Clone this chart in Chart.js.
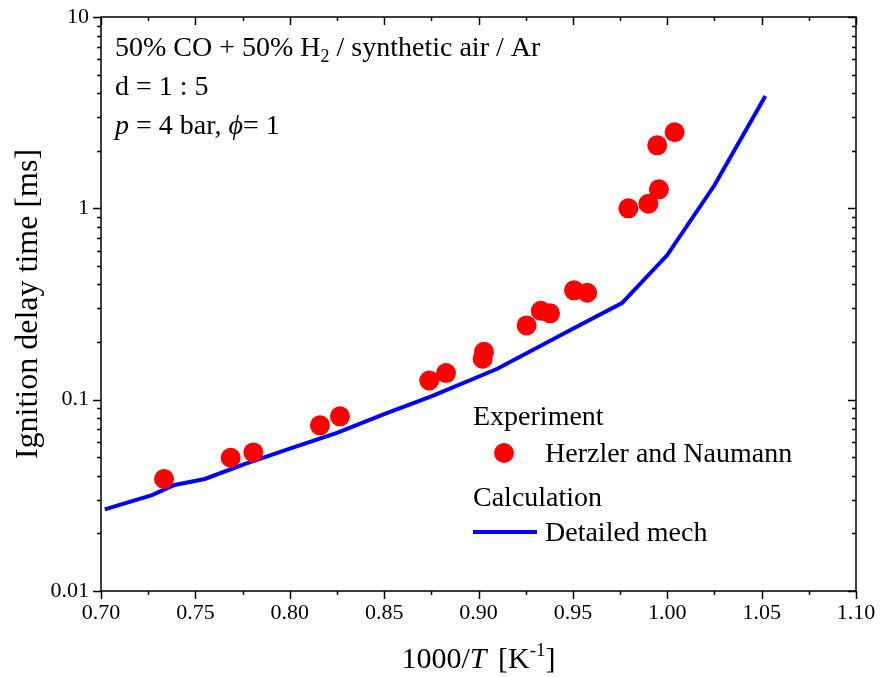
<!DOCTYPE html>
<html><head><meta charset="utf-8">
<script src="https://cdn.jsdelivr.net/npm/chart.js@4/dist/chart.umd.min.js"></script>
<style>html,body{margin:0;padding:0;background:#fff}</style>
</head><body>
<canvas id="c" width="880" height="677"></canvas>
<script>
// ---- data ----
const expX = [0.7334,0.7687,0.7807,0.8160,0.8266,0.8739,0.8828,0.9022,0.9029,0.9255,0.9330,0.9379,0.9506,0.9576,0.9794,0.9900,0.9956,0.9947,1.0039];
const expY = [0.0385,0.0497,0.0530,0.0734,0.0818,0.126,0.1377,0.1636,0.178,0.2445,0.2915,0.2826,0.3726,0.362,1.0,1.057,1.257,2.135,2.497];
const calcX = [0.702,0.727,0.739,0.755,0.776,0.80,0.825,0.85,0.875,0.91,0.95,0.976,1.00,1.025,1.052];
const calcY = [0.0267,0.0317,0.0358,0.0385,0.046,0.0555,0.067,0.084,0.104,0.145,0.235,0.320,0.57,1.32,3.86];
const xTickLabels = ['0.70','0.75','0.80','0.85','0.90','0.95','1.00','1.05','1.10'];
const yTickLabels = ['0.01','0.1','1','10'];
const seriesNames = ['Herzler and Naumann','Detailed mech'];
const groupNames = ['Experiment','Calculation'];

const SERIF = '"Liberation Serif","Times New Roman",serif';
const TICK_FONT = 22;

function xLabelFor(v){
  const f = xTickLabels.find(l => Math.abs(parseFloat(l) - v) < 1e-6);
  return f === undefined ? '' : f;
}
function yLabelFor(v){
  const f = yTickLabels.find(l => Math.abs(Math.log10(parseFloat(l)) - Math.log10(v)) < 1e-6);
  return f === undefined ? '' : f;
}

function drawRich(ctx, x, y, parts){
  let cx = x;
  for (const p of parts){
    ctx.font = p.font;
    ctx.fillText(p.t, cx, y + (p.dy || 0));
    cx += ctx.measureText(p.t).width + (p.gap || 0);
  }
}

function noEdgePadding(s){
  s.paddingTop = 0; s.paddingBottom = 0; s.paddingLeft = 0; s.paddingRight = 0;
}

const decor = {
  id: 'decor',
  afterDraw(chart){
    const {ctx, chartArea: a, scales: {x, y}} = chart;
    ctx.save();
    ctx.strokeStyle = '#000';
    ctx.lineWidth = 1.5;
    ctx.strokeRect(a.left, a.top, a.right - a.left, a.bottom - a.top);
    const MAJ = 8, MIN = 4;
    // x ticks
    const xMaj = xTickLabels.map(parseFloat);
    const xTicks = [];
    xMaj.forEach((v, i) => {
      xTicks.push({v, major: true});
      if (i < xMaj.length - 1) xTicks.push({v: (v + xMaj[i + 1]) / 2, major: false});
    });
    ctx.beginPath();
    for (const t of xTicks){
      const px = Math.round(x.getPixelForValue(t.v)) + 0.5;
      const L = t.major ? MAJ : MIN;
      ctx.moveTo(px, a.bottom); ctx.lineTo(px, a.bottom + L);
      ctx.moveTo(px, a.top); ctx.lineTo(px, a.top + L);
    }
    // y ticks
    const yMaj = yTickLabels.map(parseFloat);
    const yTicks = [];
    yMaj.forEach((v, i) => {
      yTicks.push({v, major: true});
      if (i < yMaj.length - 1) for (let k = 2; k <= 9; k++) yTicks.push({v: v * k, major: false});
    });
    for (const t of yTicks){
      const py = Math.round(y.getPixelForValue(t.v)) + 0.5;
      const L = t.major ? MAJ : MIN;
      ctx.moveTo(a.left - L, py); ctx.lineTo(a.left, py);
      ctx.moveTo(a.right - L, py); ctx.lineTo(a.right, py);
    }
    ctx.stroke();

    ctx.fillStyle = '#000';
    ctx.textBaseline = 'alphabetic';
    ctx.textAlign = 'left';
    // x-axis title
    const fN = '30px ' + SERIF, fI = 'italic 30px ' + SERIF, fS = '19px ' + SERIF;
    const parts = [
      {t: '1000/', font: fN}, {t: 'T', font: fI, gap: 4}, {t: ' [K', font: fN},
      {t: '-1', font: fS, dy: -12}, {t: ']', font: fN}
    ];
    let w = 0;
    for (const p of parts){ ctx.font = p.font; w += ctx.measureText(p.t).width + (p.gap || 0); }
    drawRich(ctx, (a.left + a.right) / 2 - w / 2, 668, parts);

    // annotation
    const aN = '28px ' + SERIF, aI = 'italic 28px ' + SERIF, aS = '18px ' + SERIF;
    drawRich(ctx, 115, 56, [
      {t: '50% CO + 50% H', font: aN}, {t: '2', font: aS, dy: 6},
      {t: ' / synthetic air / Ar', font: aN}
    ]);
    drawRich(ctx, 115, 95, [{t: 'd = 1 : 5', font: aN}]);
    drawRich(ctx, 115, 134, [
      {t: 'p', font: aI}, {t: ' = 4 bar, ', font: aN}, {t: '\u03D5', font: aI}, {t: '= 1', font: aN}
    ]);

    // legend
    const lf = '28px ' + SERIF;
    ctx.font = lf;
    const ds0 = chart.data.datasets[0], ds1 = chart.data.datasets[1];
    ctx.fillText(groupNames[0], 473, 425);
    ctx.fillStyle = ds0.backgroundColor;
    ctx.beginPath(); ctx.arc(504, 453, ds0.pointRadius, 0, Math.PI * 2); ctx.fill();
    ctx.fillStyle = '#000';
    ctx.fillText(seriesNames[0], 545, 462);
    ctx.fillText(groupNames[1], 473, 506);
    ctx.strokeStyle = ds1.borderColor; ctx.lineWidth = ds1.borderWidth;
    ctx.beginPath(); ctx.moveTo(473, 532); ctx.lineTo(537, 532); ctx.stroke();
    ctx.fillText(seriesNames[1], 545, 541);
    ctx.restore();
  }
};

new Chart(document.getElementById('c'), {
  type: 'scatter',
  data: {
    datasets: [
      {label: seriesNames[0], data: expX.map((v, i) => ({x: v, y: expY[i]})),
       backgroundColor: '#ff0000', borderColor: '#ff0000', pointRadius: 10, pointBorderWidth: 0, showLine: false, order: 1},
      {label: seriesNames[1], type: 'line', data: calcX.map((v, i) => ({x: v, y: calcY[i]})),
       borderColor: '#0000ff', backgroundColor: '#0000ff', borderWidth: 4, pointRadius: 0, fill: false, tension: 0, showLine: true, order: 2}
    ]
  },
  options: {
    responsive: false, animation: false, devicePixelRatio: 1,
    layout: {padding: {left: 0, right: 24, top: 17, bottom: 0}},
    plugins: {legend: {display: false}, tooltip: {enabled: false}},
    scales: {
      x: {
        type: 'linear', min: 0.7, max: 1.1,
        grid: {display: false, drawTicks: false}, border: {display: false},
        ticks: {stepSize: 0.025, autoSkip: false, maxRotation: 0, padding: 9, color: '#000',
                font: {family: SERIF, size: TICK_FONT}, callback: v => xLabelFor(v)},
        afterFit: s => { s.height = 86; noEdgePadding(s); }
      },
      y: {
        type: 'logarithmic', min: 0.01, max: 10,
        grid: {display: false, drawTicks: false}, border: {display: false},
        ticks: {autoSkip: false, padding: 12, color: '#000',
                font: {family: SERIF, size: TICK_FONT}, callback: v => yLabelFor(v)},
        title: {display: true, text: 'Ignition delay time [ms]', color: '#000',
                font: {family: SERIF, size: 32}, padding: {top: 9, bottom: 0}},
        afterFit: s => { s.width = 101; noEdgePadding(s); }
      }
    }
  },
  plugins: [decor]
});
</script>
</body></html>
